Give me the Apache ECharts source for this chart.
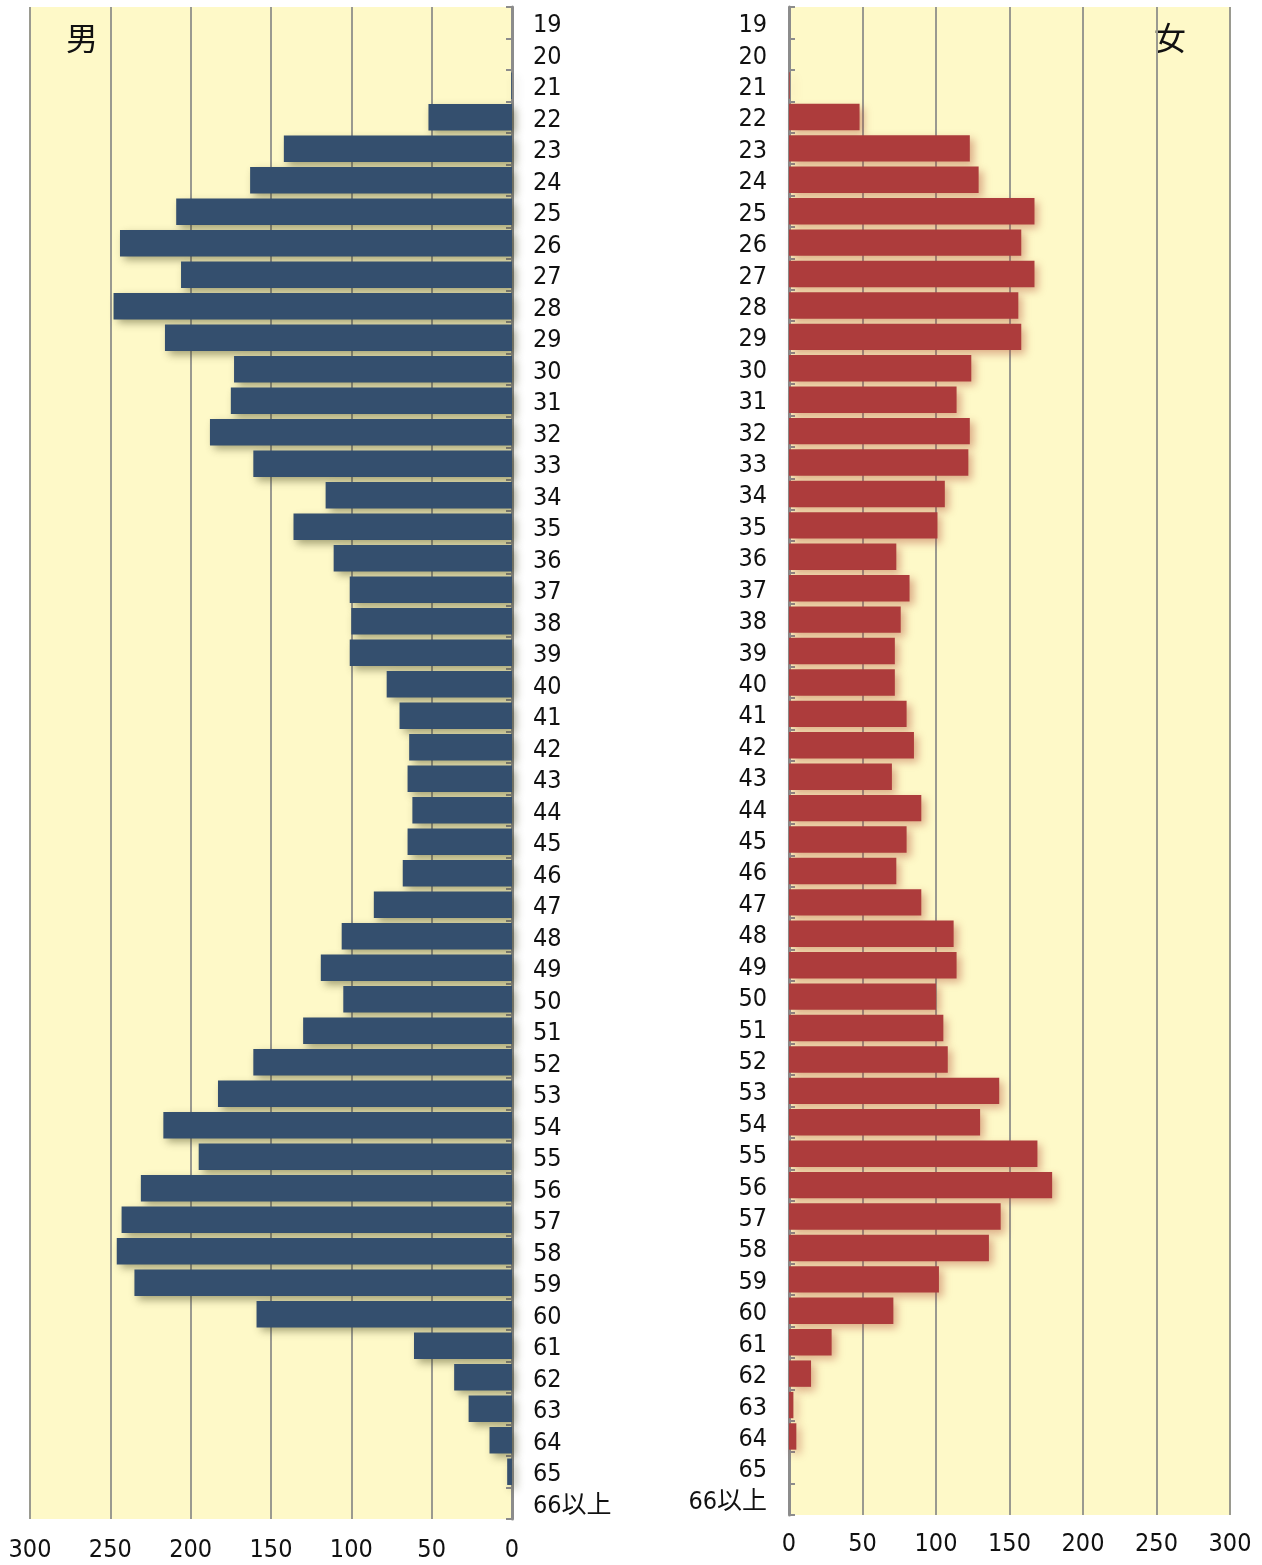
<!DOCTYPE html>
<html>
<head>
<meta charset="utf-8">
<script src="https://cdn.jsdelivr.net/npm/echarts@6/dist/echarts.min.js"></script>
<style>
  html, body { margin: 0; padding: 0; background: #fff; }
  #chart { width: 1262px; height: 1565px; }
</style>
</head>
<body>
<div id="chart"></div>
<script>
const ages = ['19', '20', '21', '22', '23', '24', '25', '26', '27', '28', '29', '30',
  '31', '32', '33', '34', '35', '36', '37', '38', '39', '40', '41', '42', '43', '44',
  '45', '46', '47', '48', '49', '50', '51', '52', '53', '54', '55', '56', '57', '58',
  '59', '60', '61', '62', '63', '64', '65', '66以上'];

const male = [0, 0, 0.5, 52, 142, 163, 209, 244, 206, 248, 216, 173,
  175, 188, 161, 116, 136, 111, 101, 100, 101, 78, 70, 64, 65, 62,
  65, 68, 86, 106, 119, 105, 130, 161, 183, 217, 195, 231, 243, 246,
  235, 159, 61, 36, 27, 14, 3, 0];

const female = [0, 0, 0.5, 48, 123, 129, 167, 158, 167, 156, 158, 124,
  114, 123, 122, 106, 101, 73, 82, 76, 72, 72, 80, 85, 70, 90,
  80, 73, 90, 112, 114, 100, 105, 108, 143, 130, 169, 179, 144, 136,
  102, 71, 29, 15, 3, 5, 0, 0];

const xTicks = { min: 0, max: 300, interval: 50 };

const labelFont = '"DejaVu Sans Condensed", "Liberation Sans Narrow", "Noto Sans CJK JP", sans-serif';
const gridLine = { show: true, lineStyle: { color: '#9a9a90', width: 2 } };

const chart = echarts.init(document.getElementById('chart'));

const valueAxis = (gridIndex, inverse, margin) => ({
  type: 'value',
  gridIndex,
  inverse,
  min: xTicks.min,
  max: xTicks.max,
  interval: xTicks.interval,
  axisLine: { show: false },
  axisTick: { show: false },
  splitLine: gridLine,
  axisLabel: { color: '#111', fontSize: 25, fontFamily: labelFont, margin }
});

// rich text with top padding nudges the age labels down a few px
const catAxis = (gridIndex, position, align, margin) => ({
  type: 'category',
  gridIndex,
  data: ages,
  inverse: true,
  position,
  axisLine: { show: true, lineStyle: { color: '#8c8c8c', width: 3 } },
  axisTick: { show: true, inside: true, length: 6, lineStyle: { color: '#8c8c8c', width: 2 } },
  axisLabel: {
    interval: 0,
    align,
    margin,
    formatter: (v) => '{a|' + v + '}',
    rich: { a: { color: '#111', fontSize: 25, fontFamily: labelFont, padding: [6, 0, 0, 0] } }
  },
  splitLine: { show: false }
});

const barSeries = (name, data, idx, color, shadow) => ({
  name,
  type: 'bar',
  xAxisIndex: idx,
  yAxisIndex: idx,
  data,
  barCategoryGap: '16%',
  itemStyle: {
    color,
    shadowColor: shadow,
    shadowBlur: 8,
    shadowOffsetX: 4,
    shadowOffsetY: 4
  }
});

const option = {
  backgroundColor: '#ffffff',
  animation: false,
  grid: [
    { left: 30, right: 750, top: 7, bottom: 46, show: true, backgroundColor: '#fef9c8', borderWidth: 0 },
    { left: 789, right: 32, top: 7, bottom: 50, show: true, backgroundColor: '#fef9c8', borderWidth: 0 }
  ],
  xAxis: [valueAxis(0, true, 19), valueAxis(1, false, 17)],
  yAxis: [catAxis(0, 'right', 'left', 21), catAxis(1, 'left', 'right', 22)],
  graphic: [
    { type: 'text', left: 66, top: 22, style: { text: '男', fontSize: 32, fill: '#111', fontFamily: '"Noto Sans CJK JP", sans-serif' } },
    { type: 'text', left: 1154, top: 22, style: { text: '女', fontSize: 32, fill: '#111', fontFamily: '"Noto Sans CJK JP", sans-serif' } }
  ],
  series: [
    barSeries('男', male, 0, '#344f6e', 'rgba(60,60,20,0.45)'),
    barSeries('女', female, 1, '#ad3c3c', 'rgba(170,60,40,0.4)')
  ]
};

chart.setOption(option);
</script>
</body>
</html>
